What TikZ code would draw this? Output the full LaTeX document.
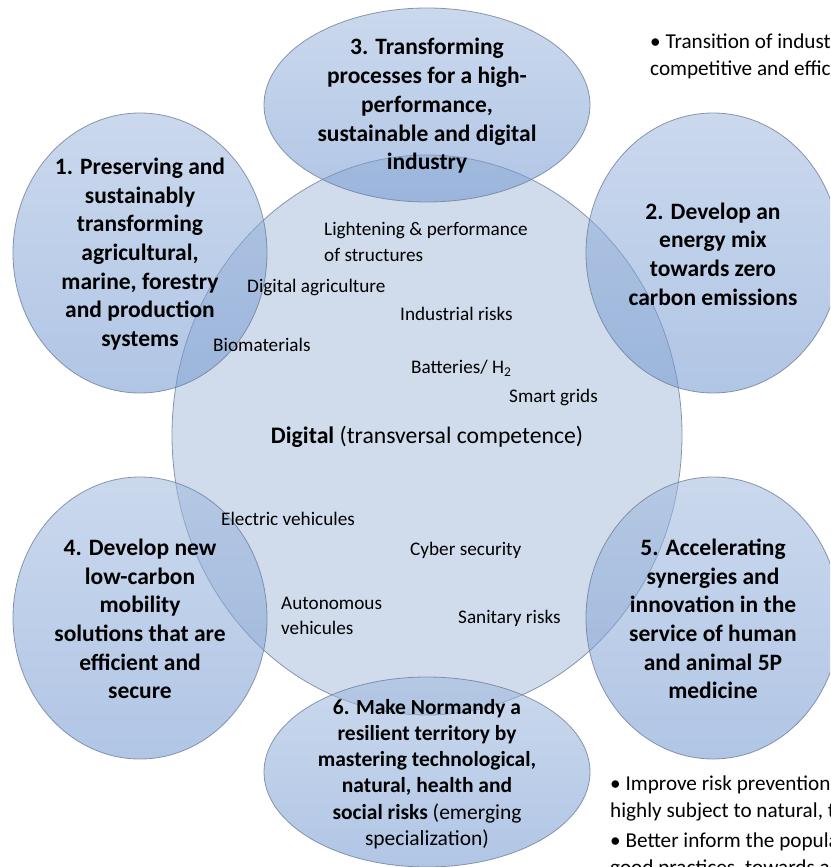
\documentclass[tikz,border=0pt]{standalone}
\usepackage{fontspec}
\setmainfont{Carlito}
\definecolor{corefill}{RGB}{176,196,222}
\definecolor{outtop}{RGB}{160,185,222}
\definecolor{outbot}{RGB}{112,150,208}
\definecolor{rimcol}{RGB}{110,128,155}
\begin{document}
\begin{tikzpicture}[x=1pt,y=-1pt,
  core/.style={draw=rimcol, line width=0.8pt, fill=corefill, fill opacity=0.6, draw opacity=0.8},
  blob/.style={draw=rimcol, line width=0.8pt, top color=outtop, bottom color=outbot, fill opacity=0.55, draw opacity=0.8},
  bigtxt/.style={font=\fontsize{23.5}{28.7}\selectfont\bfseries, align=center, inner sep=0pt, text=black},
  midtxt/.style={font=\fontsize{21.5}{26.2}\selectfont\bfseries, align=center, inner sep=0pt, text=black},
  smalltxt/.style={font=\fontsize{19.2}{25.5}\selectfont, inner sep=0pt, text=black},
  sidetxt/.style={font=\fontsize{21.2}{27}\selectfont, inner sep=0pt, align=left, anchor=west, text=black}]
\clip (0,0) rectangle (830,867);
% shapes
\path[core] (427,435) ellipse [x radius=255, y radius=280];
\path[blob] (427,105) ellipse [x radius=163, y radius=97];
\path[blob] (140,253) ellipse [x radius=127, y radius=140];
\path[blob] (713,253) ellipse [x radius=127, y radius=140];
\path[blob] (140,618) ellipse [x radius=127, y radius=141];
\path[blob] (713,618) ellipse [x radius=127, y radius=141];
\path[blob] (427,772) ellipse [x radius=163, y radius=95];
% outer texts
\node[bigtxt] (t3) at (427,106) {3. Transforming\\processes for a high-\\performance,\\sustainable and digital\\industry};
\node[bigtxt] (t1) at (140,254) {1. Preserving and\\sustainably\\transforming\\agricultural,\\marine, forestry\\and production\\systems};
\node[bigtxt] (t2) at (713,254) {2. Develop an\\energy mix\\towards zero\\carbon emissions};
\node[bigtxt] (t4) at (140,619) {4. Develop new\\low-carbon\\mobility\\solutions that are\\efficient and\\secure};
\node[bigtxt] (t5) at (713,619) {5. Accelerating\\synergies and\\innovation in the\\service of human\\and animal 5P\\medicine};
\node[midtxt] (t6) at (427,774) {6. Make Normandy a\\resilient territory by\\mastering technological,\\natural, health and\\social risks {\mdseries (emerging}\\{\mdseries specialization)}};
% inner texts
\node[smalltxt, align=left, anchor=west] (light) at (324,242) {Lightening \& performance\\of structures};
\node[smalltxt, anchor=base west] (digagri) at (247,292) {Digital agriculture};
\node[smalltxt, anchor=base west] (indrisk) at (400,320) {Industrial risks};
\node[smalltxt, anchor=base west] (biomat) at (213,351) {Biomaterials};
\node[smalltxt, anchor=base west] (batt) at (411,373) {Batteries/ H\textsubscript{2}};
\node[smalltxt, anchor=base west] (smart) at (509,402) {Smart grids};
\node[font=\fontsize{23.7}{28}\selectfont, inner sep=0pt, anchor=base] (digital) at (427,443) {\textbf{Digital} (transversal competence)};
\node[smalltxt, anchor=base west] (elec) at (221,525) {Electric vehicules};
\node[smalltxt, anchor=base west] (cyber) at (410,555) {Cyber security};
\node[smalltxt, align=left, anchor=west] (auto) at (281,616) {Autonomous\\vehicules};
\node[smalltxt, anchor=base west] (sanit) at (458,623) {Sanitary risks};
% side texts (cut by the frame, as in the reference)
\node[sidetxt] (side1) at (650,56) {• Transition of industry towards more\\competitive and efficient processes};
\node[sidetxt] (side2) at (610,827) {• Improve risk prevention in a territory\\highly subject to natural, technological risks\\[3pt]• Better inform the population about\\good practices, towards a culture of risk};
\end{tikzpicture}
\end{document}
